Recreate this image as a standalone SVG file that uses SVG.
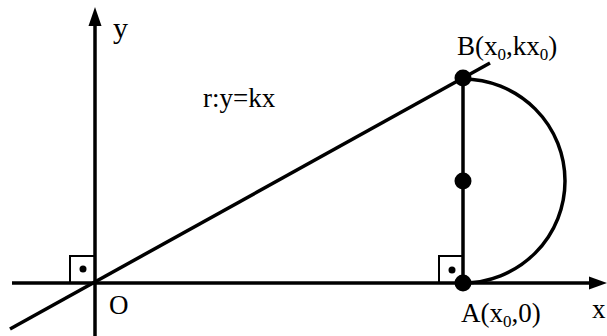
<svg xmlns="http://www.w3.org/2000/svg" width="607" height="336" viewBox="0 0 607 336">
<style>
.ln{stroke:#000;stroke-width:3.5;fill:none}
.sq{stroke:#000;stroke-width:2;fill:none}
.t{font-family:"Liberation Serif",serif;font-size:27px;fill:#000}
.s{font-size:17px}
</style>
<rect width="607" height="336" fill="#fff"/>
<g id="connectors">
<line class="ln" x1="95" y1="336" x2="95" y2="22"/>
<path d="M88.5,26 L95,7 L101.5,26 z" fill="#000"/>
<line class="ln" x1="12" y1="283" x2="595" y2="283"/>
<path d="M589,276.5 L607,283 L589,289.5 z" fill="#000"/>
<line class="ln" x1="10" y1="329" x2="490" y2="63"/>
<line class="ln" x1="463" y1="78" x2="463" y2="283"/>
<path class="ln" d="M463,79 A102,102 0 0 1 463,283"/>
<rect class="sq" x="70" y="256" width="25" height="27"/>
<rect class="sq" x="439" y="256" width="24" height="27"/>
<circle cx="83" cy="269" r="3.5"/>
<circle cx="452" cy="270" r="3.5"/>
</g>
<g id="O"><text class="t" x="109" y="314">O</text></g>
<g id="B"><circle cx="463" cy="78" r="8.5"/><text class="t" x="457" y="55">B(x<tspan class="s" dy="5">0</tspan><tspan dy="-5">,kx</tspan><tspan class="s" dy="5">0</tspan><tspan dy="-5">)</tspan></text></g>
<g id="M"><circle cx="463" cy="181" r="8.5"/></g>
<g id="A"><circle cx="463" cy="283" r="8.5"/><text class="t" x="461" y="322">A(x<tspan class="s" dy="5">0</tspan><tspan dy="-5">,0)</tspan></text></g>
<g id="labels">
<text class="t" x="113" y="38" style="font-size:30px">y</text>
<text class="t" x="203" y="107">r:y=kx</text>
<text class="t" x="592" y="318">x</text>
</g>
</svg>
